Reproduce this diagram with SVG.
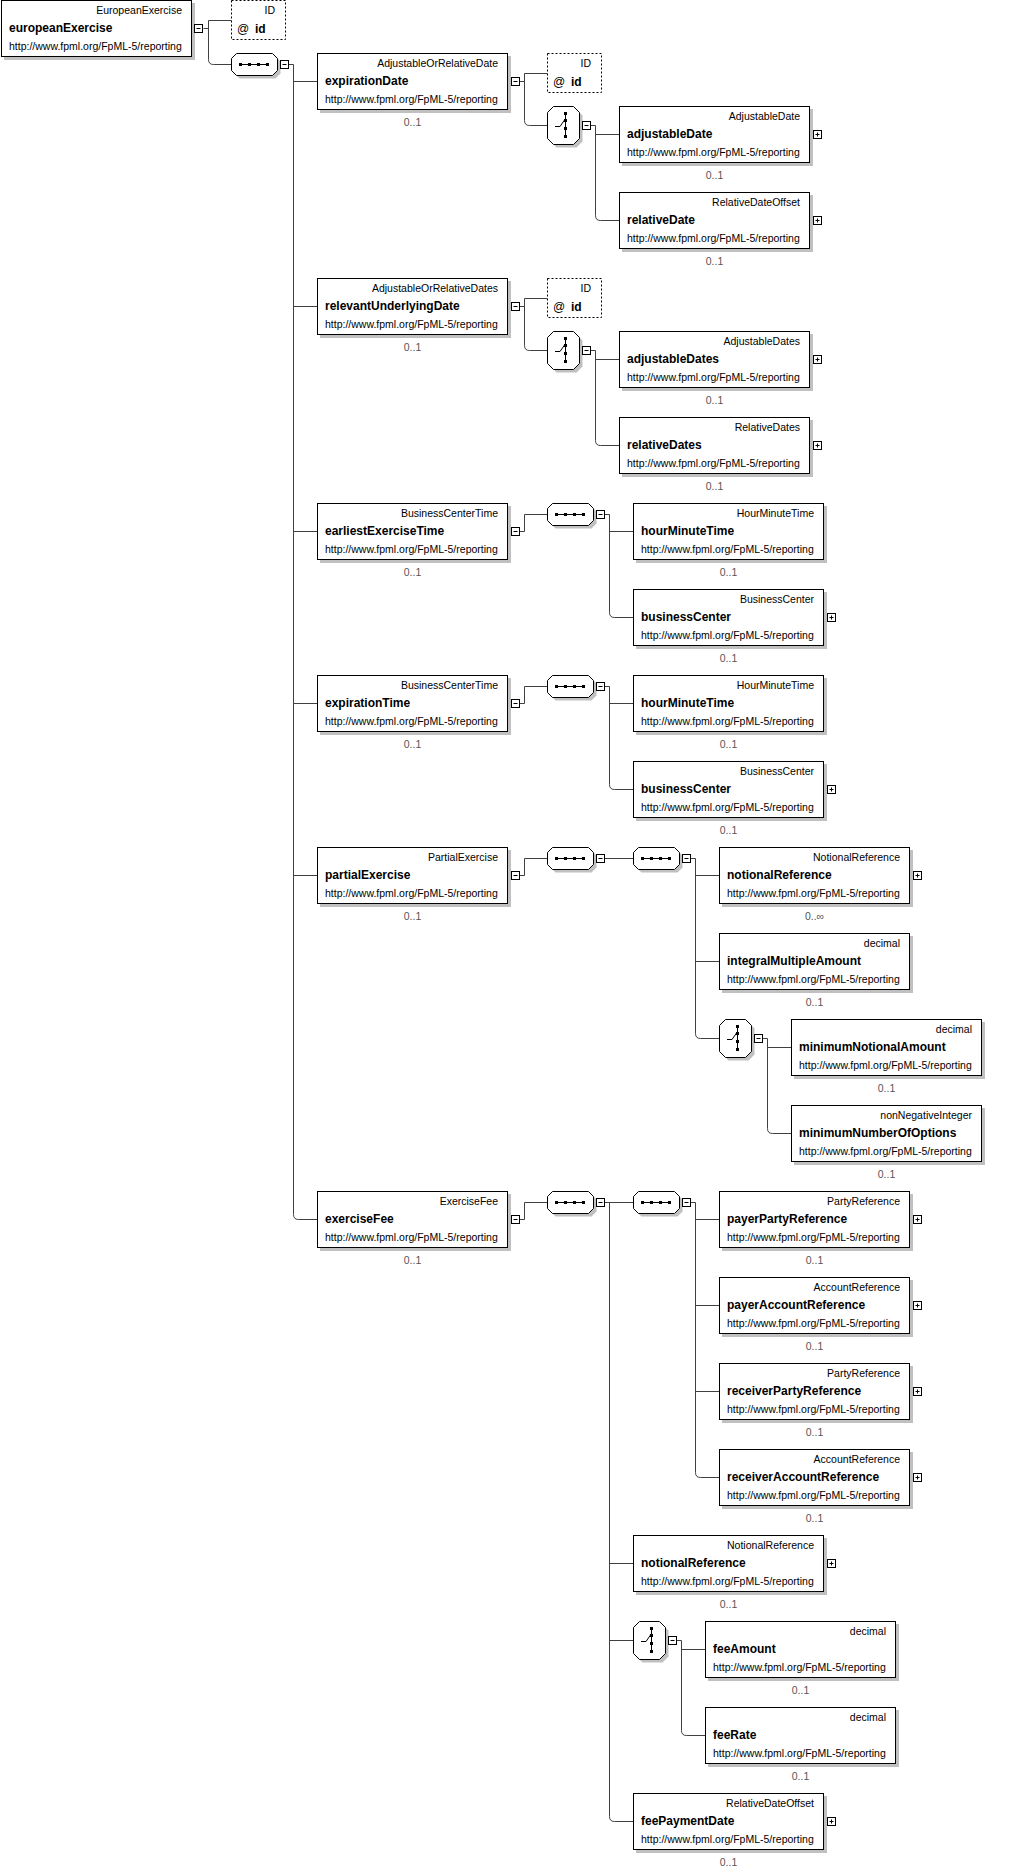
<svg xmlns="http://www.w3.org/2000/svg" xmlns:xlink="http://www.w3.org/1999/xlink" width="1022" height="1871" viewBox="0 0 1022 1871">
<style>
text{font-family:"Liberation Sans",Arial,sans-serif;fill:#000}
.ty{font-size:10.5px;text-anchor:end}
.nm{font-size:12px;font-weight:bold}
.ur{font-size:10.5px}
.oc{font-size:10.5px;text-anchor:middle;fill:#555}
.at{font-size:12px}
.cn{fill:none;stroke:#404040;stroke-width:1}
.sh{fill:#c0c0c0}
.bx{fill:#fff;stroke:#000;stroke-width:1}
.dash{fill:#fff;stroke:#000;stroke-width:1;stroke-dasharray:2,2}
.ic{stroke:#000;stroke-width:1;fill:none}
</style>
<defs>
<g id="el"><rect class="sh" x="3" y="3" width="191" height="57"/><rect class="bx" x="0.5" y="0.5" width="190" height="56"/></g>
<g id="attr"><rect class="dash" x="0.5" y="0.5" width="54" height="39"/></g>
<g id="seq">
<polygon class="sh" points="8.5,3.5 44.5,3.5 49.5,8.5 49.5,20.5 44.5,25.5 8.5,25.5 3.5,20.5 3.5,8.5"/>
<polygon class="bx" points="5.5,0.5 41.5,0.5 46.5,5.5 46.5,17.5 41.5,22.5 5.5,22.5 0.5,17.5 0.5,5.5"/>
<line class="ic" x1="9" y1="11.5" x2="37" y2="11.5"/>
<rect x="8" y="10" width="3" height="3"/><rect x="17" y="10" width="3" height="3"/><rect x="26" y="10" width="3" height="3"/><rect x="35" y="10" width="3" height="3"/>
</g>
<g id="cho">
<polygon class="sh" points="9.5,3.5 29.5,3.5 35.5,9.5 35.5,35.5 29.5,41.5 9.5,41.5 3.5,35.5 3.5,9.5"/>
<polygon class="bx" points="6.5,0.5 26.5,0.5 32.5,6.5 32.5,32.5 26.5,38.5 6.5,38.5 0.5,32.5 0.5,6.5"/>
<line class="ic" x1="18.5" y1="7" x2="18.5" y2="31"/>
<rect x="17" y="6" width="3" height="3"/><rect x="17" y="13" width="3" height="3"/><rect x="17" y="21" width="3" height="3"/><rect x="17" y="29" width="3" height="3"/>
<polyline class="ic" points="8,20.5 13,20.5 17.5,14"/>
</g>
<g id="minus"><rect class="bx" x="0.5" y="0.5" width="8" height="8"/><line class="ic" x1="2.5" y1="4.5" x2="6.5" y2="4.5"/></g>
<g id="plus"><rect class="bx" x="0.5" y="0.5" width="8" height="8"/><line class="ic" x1="2.5" y1="4.5" x2="6.5" y2="4.5"/><line class="ic" x1="4.5" y1="2.5" x2="4.5" y2="6.5"/></g>
</defs>
<rect width="1022" height="1871" fill="#fff"/>

<g id="connectors">
<path class="cn" d="M203.5 28.5H208.5M231.5 20.5H208.5V59.5Q208.5 64.5 213.5 64.5H231.5"/>
<path class="cn" d="M288.5 64.5H293.5V1214.5Q293.5 1219.5 298.5 1219.5H317.5M293.5 81.5H317.5M293.5 306.5H317.5M293.5 531.5H317.5M293.5 703.5H317.5M293.5 875.5H317.5"/>
<path class="cn" d="M519.5 81.5H524.5M547.5 73.5H524.5V120.5Q524.5 125.5 529.5 125.5H547.5"/>
<path class="cn" d="M590.5 125.5H595.5V215.5Q595.5 220.5 600.5 220.5H619.5M595.5 134.5H619.5"/>
<path class="cn" d="M519.5 306.5H524.5M547.5 298.5H524.5V345.5Q524.5 350.5 529.5 350.5H547.5"/>
<path class="cn" d="M590.5 350.5H595.5V440.5Q595.5 445.5 600.5 445.5H619.5M595.5 359.5H619.5"/>
<path class="cn" d="M519.5 531.5H524.5V514.5H547.5"/>
<path class="cn" d="M604.5 514.5H609.5V612.5Q609.5 617.5 614.5 617.5H633.5M609.5 531.5H633.5"/>
<path class="cn" d="M519.5 703.5H524.5V686.5H547.5"/>
<path class="cn" d="M604.5 686.5H609.5V784.5Q609.5 789.5 614.5 789.5H633.5M609.5 703.5H633.5"/>
<path class="cn" d="M519.5 875.5H524.5V858.5H547.5"/>
<path class="cn" d="M604.5 858.5H633.5"/>
<path class="cn" d="M690.5 858.5H695.5V1033.5Q695.5 1038.5 700.5 1038.5H719.5M695.5 875.5H719.5M695.5 961.5H719.5"/>
<path class="cn" d="M762.5 1038.5H767.5V1128.5Q767.5 1133.5 772.5 1133.5H791.5M767.5 1047.5H791.5"/>
<path class="cn" d="M519.5 1219.5H524.5V1202.5H547.5"/>
<path class="cn" d="M604.5 1202.5H633.5M609.5 1202.5V1816.5Q609.5 1821.5 614.5 1821.5H633.5M609.5 1563.5H633.5M609.5 1640.5H633.5"/>
<path class="cn" d="M690.5 1202.5H695.5V1472.5Q695.5 1477.5 700.5 1477.5H719.5M695.5 1219.5H719.5M695.5 1305.5H719.5M695.5 1391.5H719.5"/>
<path class="cn" d="M676.5 1640.5H681.5V1730.5Q681.5 1735.5 686.5 1735.5H705.5M681.5 1649.5H705.5"/>
</g>

<g id="nodes">
<g id="europeanExercise" transform="translate(1,0)"><use xlink:href="#el"/><text class="ty" x="181" y="14">EuropeanExercise</text><text class="nm" x="8" y="32">europeanExercise</text><text class="ur" x="8" y="50">http://www.fpml.org/FpML-5/reporting</text><use xlink:href="#minus" x="193" y="24"/></g>
<g id="europeanExercise-id" transform="translate(231,0)"><use xlink:href="#attr"/><text class="ty" x="44" y="14">ID</text><text class="at" x="6" y="33">@</text><text class="nm" x="24" y="33">id</text></g>
<g id="seq-main" transform="translate(231,53)"><use xlink:href="#seq"/><use xlink:href="#minus" x="49" y="7"/></g>

<g id="expirationDate" transform="translate(317,53)"><use xlink:href="#el"/><text class="ty" x="181" y="14">AdjustableOrRelativeDate</text><text class="nm" x="8" y="32">expirationDate</text><text class="ur" x="8" y="50">http://www.fpml.org/FpML-5/reporting</text><text class="oc" x="95.5" y="73">0..1</text><use xlink:href="#minus" x="194" y="24"/></g>
<g id="expirationDate-id" transform="translate(547,53)"><use xlink:href="#attr"/><text class="ty" x="44" y="14">ID</text><text class="at" x="6" y="33">@</text><text class="nm" x="24" y="33">id</text></g>
<g id="choice-expirationDate" transform="translate(547,106)"><use xlink:href="#cho"/><use xlink:href="#minus" x="35" y="15"/></g>
<g id="adjustableDate" transform="translate(619,106)"><use xlink:href="#el"/><text class="ty" x="181" y="14">AdjustableDate</text><text class="nm" x="8" y="32">adjustableDate</text><text class="ur" x="8" y="50">http://www.fpml.org/FpML-5/reporting</text><text class="oc" x="95.5" y="73">0..1</text><use xlink:href="#plus" x="194" y="24"/></g>
<g id="relativeDate" transform="translate(619,192)"><use xlink:href="#el"/><text class="ty" x="181" y="14">RelativeDateOffset</text><text class="nm" x="8" y="32">relativeDate</text><text class="ur" x="8" y="50">http://www.fpml.org/FpML-5/reporting</text><text class="oc" x="95.5" y="73">0..1</text><use xlink:href="#plus" x="194" y="24"/></g>

<g id="relevantUnderlyingDate" transform="translate(317,278)"><use xlink:href="#el"/><text class="ty" x="181" y="14">AdjustableOrRelativeDates</text><text class="nm" x="8" y="32">relevantUnderlyingDate</text><text class="ur" x="8" y="50">http://www.fpml.org/FpML-5/reporting</text><text class="oc" x="95.5" y="73">0..1</text><use xlink:href="#minus" x="194" y="24"/></g>
<g id="relevantUnderlyingDate-id" transform="translate(547,278)"><use xlink:href="#attr"/><text class="ty" x="44" y="14">ID</text><text class="at" x="6" y="33">@</text><text class="nm" x="24" y="33">id</text></g>
<g id="choice-relevantUnderlyingDate" transform="translate(547,331)"><use xlink:href="#cho"/><use xlink:href="#minus" x="35" y="15"/></g>
<g id="adjustableDates" transform="translate(619,331)"><use xlink:href="#el"/><text class="ty" x="181" y="14">AdjustableDates</text><text class="nm" x="8" y="32">adjustableDates</text><text class="ur" x="8" y="50">http://www.fpml.org/FpML-5/reporting</text><text class="oc" x="95.5" y="73">0..1</text><use xlink:href="#plus" x="194" y="24"/></g>
<g id="relativeDates" transform="translate(619,417)"><use xlink:href="#el"/><text class="ty" x="181" y="14">RelativeDates</text><text class="nm" x="8" y="32">relativeDates</text><text class="ur" x="8" y="50">http://www.fpml.org/FpML-5/reporting</text><text class="oc" x="95.5" y="73">0..1</text><use xlink:href="#plus" x="194" y="24"/></g>

<g id="earliestExerciseTime" transform="translate(317,503)"><use xlink:href="#el"/><text class="ty" x="181" y="14">BusinessCenterTime</text><text class="nm" x="8" y="32">earliestExerciseTime</text><text class="ur" x="8" y="50">http://www.fpml.org/FpML-5/reporting</text><text class="oc" x="95.5" y="73">0..1</text><use xlink:href="#minus" x="194" y="24"/></g>
<g id="seq-earliestExerciseTime" transform="translate(547,503)"><use xlink:href="#seq"/><use xlink:href="#minus" x="49" y="7"/></g>
<g id="earliest-hourMinuteTime" transform="translate(633,503)"><use xlink:href="#el"/><text class="ty" x="181" y="14">HourMinuteTime</text><text class="nm" x="8" y="32">hourMinuteTime</text><text class="ur" x="8" y="50">http://www.fpml.org/FpML-5/reporting</text><text class="oc" x="95.5" y="73">0..1</text></g>
<g id="earliest-businessCenter" transform="translate(633,589)"><use xlink:href="#el"/><text class="ty" x="181" y="14">BusinessCenter</text><text class="nm" x="8" y="32">businessCenter</text><text class="ur" x="8" y="50">http://www.fpml.org/FpML-5/reporting</text><text class="oc" x="95.5" y="73">0..1</text><use xlink:href="#plus" x="194" y="24"/></g>

<g id="expirationTime" transform="translate(317,675)"><use xlink:href="#el"/><text class="ty" x="181" y="14">BusinessCenterTime</text><text class="nm" x="8" y="32">expirationTime</text><text class="ur" x="8" y="50">http://www.fpml.org/FpML-5/reporting</text><text class="oc" x="95.5" y="73">0..1</text><use xlink:href="#minus" x="194" y="24"/></g>
<g id="seq-expirationTime" transform="translate(547,675)"><use xlink:href="#seq"/><use xlink:href="#minus" x="49" y="7"/></g>
<g id="expiration-hourMinuteTime" transform="translate(633,675)"><use xlink:href="#el"/><text class="ty" x="181" y="14">HourMinuteTime</text><text class="nm" x="8" y="32">hourMinuteTime</text><text class="ur" x="8" y="50">http://www.fpml.org/FpML-5/reporting</text><text class="oc" x="95.5" y="73">0..1</text></g>
<g id="expiration-businessCenter" transform="translate(633,761)"><use xlink:href="#el"/><text class="ty" x="181" y="14">BusinessCenter</text><text class="nm" x="8" y="32">businessCenter</text><text class="ur" x="8" y="50">http://www.fpml.org/FpML-5/reporting</text><text class="oc" x="95.5" y="73">0..1</text><use xlink:href="#plus" x="194" y="24"/></g>

<g id="partialExercise" transform="translate(317,847)"><use xlink:href="#el"/><text class="ty" x="181" y="14">PartialExercise</text><text class="nm" x="8" y="32">partialExercise</text><text class="ur" x="8" y="50">http://www.fpml.org/FpML-5/reporting</text><text class="oc" x="95.5" y="73">0..1</text><use xlink:href="#minus" x="194" y="24"/></g>
<g id="seq-partialExercise-1" transform="translate(547,847)"><use xlink:href="#seq"/><use xlink:href="#minus" x="49" y="7"/></g>
<g id="seq-partialExercise-2" transform="translate(633,847)"><use xlink:href="#seq"/><use xlink:href="#minus" x="49" y="7"/></g>
<g id="partial-notionalReference" transform="translate(719,847)"><use xlink:href="#el"/><text class="ty" x="181" y="14">NotionalReference</text><text class="nm" x="8" y="32">notionalReference</text><text class="ur" x="8" y="50">http://www.fpml.org/FpML-5/reporting</text><text class="oc" x="95.5" y="73">0..∞</text><use xlink:href="#plus" x="194" y="24"/></g>
<g id="integralMultipleAmount" transform="translate(719,933)"><use xlink:href="#el"/><text class="ty" x="181" y="14">decimal</text><text class="nm" x="8" y="32">integralMultipleAmount</text><text class="ur" x="8" y="50">http://www.fpml.org/FpML-5/reporting</text><text class="oc" x="95.5" y="73">0..1</text></g>
<g id="choice-partialExercise" transform="translate(719,1019)"><use xlink:href="#cho"/><use xlink:href="#minus" x="35" y="15"/></g>
<g id="minimumNotionalAmount" transform="translate(791,1019)"><use xlink:href="#el"/><text class="ty" x="181" y="14">decimal</text><text class="nm" x="8" y="32">minimumNotionalAmount</text><text class="ur" x="8" y="50">http://www.fpml.org/FpML-5/reporting</text><text class="oc" x="95.5" y="73">0..1</text></g>
<g id="minimumNumberOfOptions" transform="translate(791,1105)"><use xlink:href="#el"/><text class="ty" x="181" y="14">nonNegativeInteger</text><text class="nm" x="8" y="32">minimumNumberOfOptions</text><text class="ur" x="8" y="50">http://www.fpml.org/FpML-5/reporting</text><text class="oc" x="95.5" y="73">0..1</text></g>

<g id="exerciseFee" transform="translate(317,1191)"><use xlink:href="#el"/><text class="ty" x="181" y="14">ExerciseFee</text><text class="nm" x="8" y="32">exerciseFee</text><text class="ur" x="8" y="50">http://www.fpml.org/FpML-5/reporting</text><text class="oc" x="95.5" y="73">0..1</text><use xlink:href="#minus" x="194" y="24"/></g>
<g id="seq-exerciseFee-1" transform="translate(547,1191)"><use xlink:href="#seq"/><use xlink:href="#minus" x="49" y="7"/></g>
<g id="seq-exerciseFee-2" transform="translate(633,1191)"><use xlink:href="#seq"/><use xlink:href="#minus" x="49" y="7"/></g>
<g id="payerPartyReference" transform="translate(719,1191)"><use xlink:href="#el"/><text class="ty" x="181" y="14">PartyReference</text><text class="nm" x="8" y="32">payerPartyReference</text><text class="ur" x="8" y="50">http://www.fpml.org/FpML-5/reporting</text><text class="oc" x="95.5" y="73">0..1</text><use xlink:href="#plus" x="194" y="24"/></g>
<g id="payerAccountReference" transform="translate(719,1277)"><use xlink:href="#el"/><text class="ty" x="181" y="14">AccountReference</text><text class="nm" x="8" y="32">payerAccountReference</text><text class="ur" x="8" y="50">http://www.fpml.org/FpML-5/reporting</text><text class="oc" x="95.5" y="73">0..1</text><use xlink:href="#plus" x="194" y="24"/></g>
<g id="receiverPartyReference" transform="translate(719,1363)"><use xlink:href="#el"/><text class="ty" x="181" y="14">PartyReference</text><text class="nm" x="8" y="32">receiverPartyReference</text><text class="ur" x="8" y="50">http://www.fpml.org/FpML-5/reporting</text><text class="oc" x="95.5" y="73">0..1</text><use xlink:href="#plus" x="194" y="24"/></g>
<g id="receiverAccountReference" transform="translate(719,1449)"><use xlink:href="#el"/><text class="ty" x="181" y="14">AccountReference</text><text class="nm" x="8" y="32">receiverAccountReference</text><text class="ur" x="8" y="50">http://www.fpml.org/FpML-5/reporting</text><text class="oc" x="95.5" y="73">0..1</text><use xlink:href="#plus" x="194" y="24"/></g>
<g id="fee-notionalReference" transform="translate(633,1535)"><use xlink:href="#el"/><text class="ty" x="181" y="14">NotionalReference</text><text class="nm" x="8" y="32">notionalReference</text><text class="ur" x="8" y="50">http://www.fpml.org/FpML-5/reporting</text><text class="oc" x="95.5" y="73">0..1</text><use xlink:href="#plus" x="194" y="24"/></g>
<g id="choice-exerciseFee" transform="translate(633,1621)"><use xlink:href="#cho"/><use xlink:href="#minus" x="35" y="15"/></g>
<g id="feeAmount" transform="translate(705,1621)"><use xlink:href="#el"/><text class="ty" x="181" y="14">decimal</text><text class="nm" x="8" y="32">feeAmount</text><text class="ur" x="8" y="50">http://www.fpml.org/FpML-5/reporting</text><text class="oc" x="95.5" y="73">0..1</text></g>
<g id="feeRate" transform="translate(705,1707)"><use xlink:href="#el"/><text class="ty" x="181" y="14">decimal</text><text class="nm" x="8" y="32">feeRate</text><text class="ur" x="8" y="50">http://www.fpml.org/FpML-5/reporting</text><text class="oc" x="95.5" y="73">0..1</text></g>
<g id="feePaymentDate" transform="translate(633,1793)"><use xlink:href="#el"/><text class="ty" x="181" y="14">RelativeDateOffset</text><text class="nm" x="8" y="32">feePaymentDate</text><text class="ur" x="8" y="50">http://www.fpml.org/FpML-5/reporting</text><text class="oc" x="95.5" y="73">0..1</text><use xlink:href="#plus" x="194" y="24"/></g>
</g>
</svg>
